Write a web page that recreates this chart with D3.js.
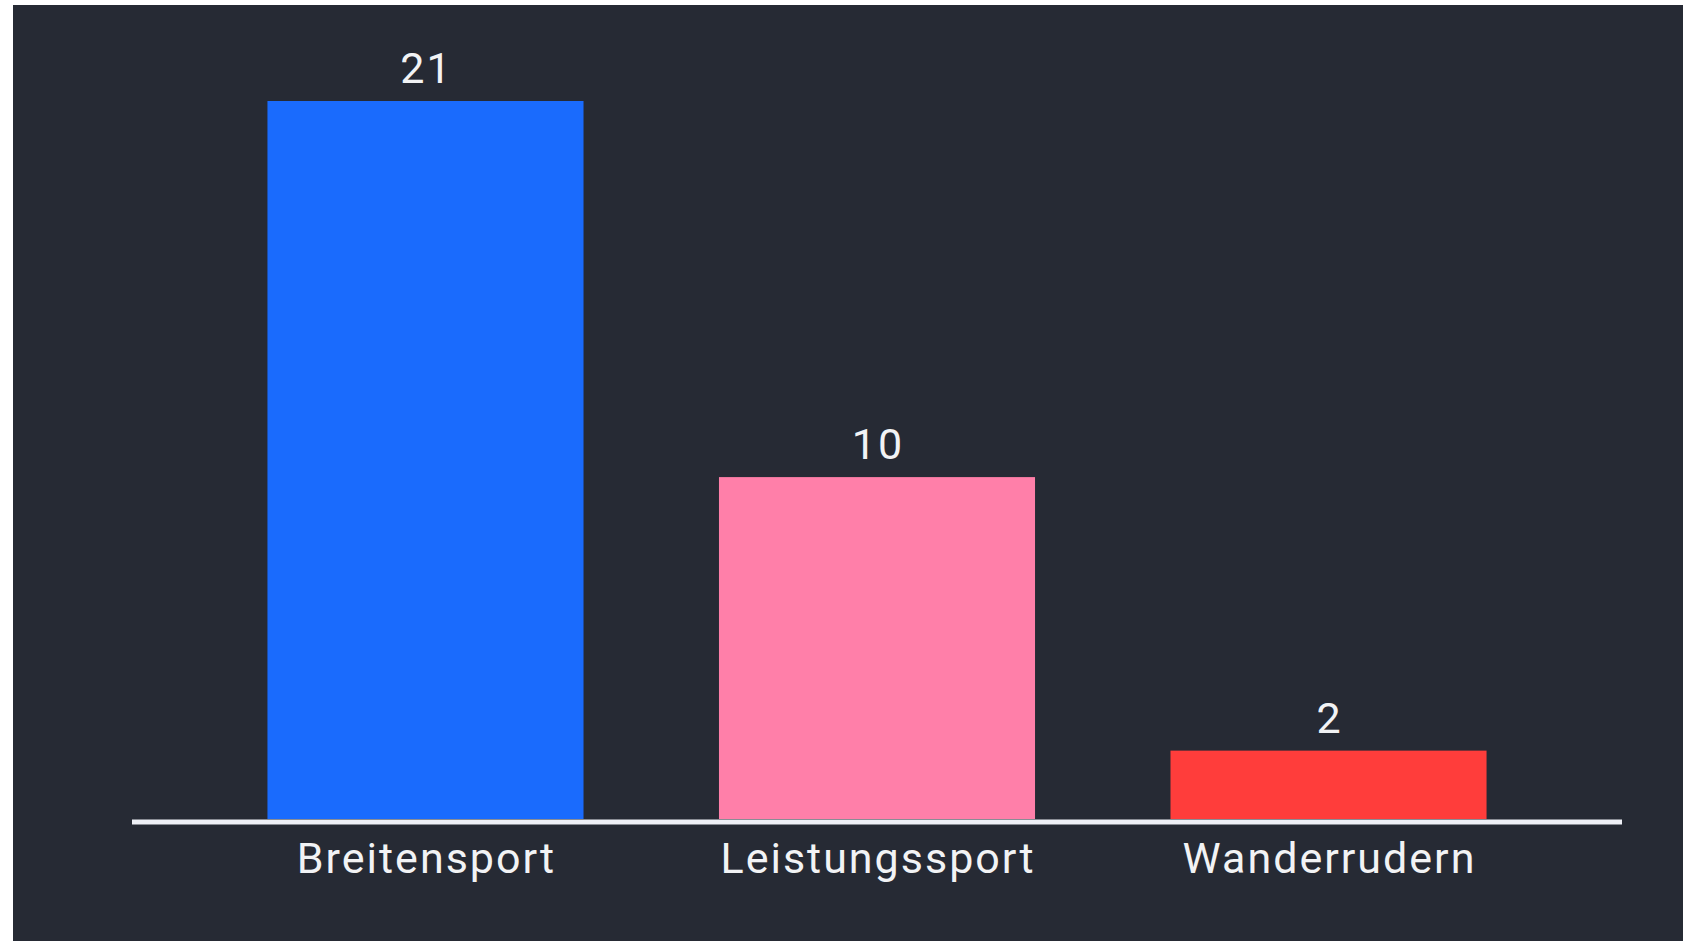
<!DOCTYPE html>
<html>
<head>
<meta charset="utf-8">
<script src="https://cdn.jsdelivr.net/npm/d3@7"></script>
<style>
  html, body { margin: 0; padding: 0; background: #ffffff; overflow: hidden; }
  svg { display: block; }
</style>
</head>
<body>
<svg id="chart" width="1683" height="941"></svg>
<script>
const categories = ["Breitensport", "Leistungssport", "Wanderrudern"];
const values = [21, 10, 2];
const colors = ["#1a6bfd", "#ff7fa9", "#ff3d3b"];

const W = 1683, H = 941;
const svg = d3.select("#chart");

svg.append("rect")
  .attr("x", 13).attr("y", 5)
  .attr("width", W - 13).attr("height", H - 5)
  .attr("fill", "#262a34");

const x = d3.scaleBand()
  .domain(categories)
  .range([132, 1622])
  .paddingInner(0.3)
  .paddingOuter(0.3);

const y = d3.scaleLinear()
  .domain([0, 21])
  .range([819, 101]);

const data = categories.map((c, i) => ({ c, v: values[i], col: colors[i] }));

svg.selectAll("rect.bar")
  .data(data)
  .join("rect")
  .attr("class", "bar")
  .attr("x", d => x(d.c))
  .attr("y", d => y(d.v))
  .attr("width", x.bandwidth())
  .attr("height", d => y(0) - y(d.v))
  .attr("fill", d => d.col);

// value labels
svg.selectAll("text.val")
  .data(data)
  .join("text")
  .attr("class", "val")
  .attr("x", d => x(d.c) + x.bandwidth() / 2 + 1)
  .attr("y", d => y(d.v) - 18)
  .attr("text-anchor", "middle")
  .attr("fill", "#f2f3f5")
  .attr("font-family", "Roboto, 'Noto Sans', sans-serif")
  .attr("font-size", 43)
  .attr("letter-spacing", 2)
  .text(d => d.v);

// x axis
const axis = d3.axisBottom(x).tickSize(0).tickPadding(0);
const g = svg.append("g")
  .attr("transform", "translate(0,822)")
  .call(axis);
g.select(".domain")
  .attr("stroke", "#eef0f6")
  .attr("stroke-width", 5)
  .attr("d", "M132,0H1622");
g.selectAll(".tick text")
  .attr("x", 1)
  .attr("y", 51)
  .attr("dy", 0)
  .attr("fill", "#f2f3f5")
  .attr("font-family", "Roboto, 'Noto Sans', sans-serif")
  .attr("font-size", 43)
  .attr("letter-spacing", 2);
</script>
</body>
</html>
